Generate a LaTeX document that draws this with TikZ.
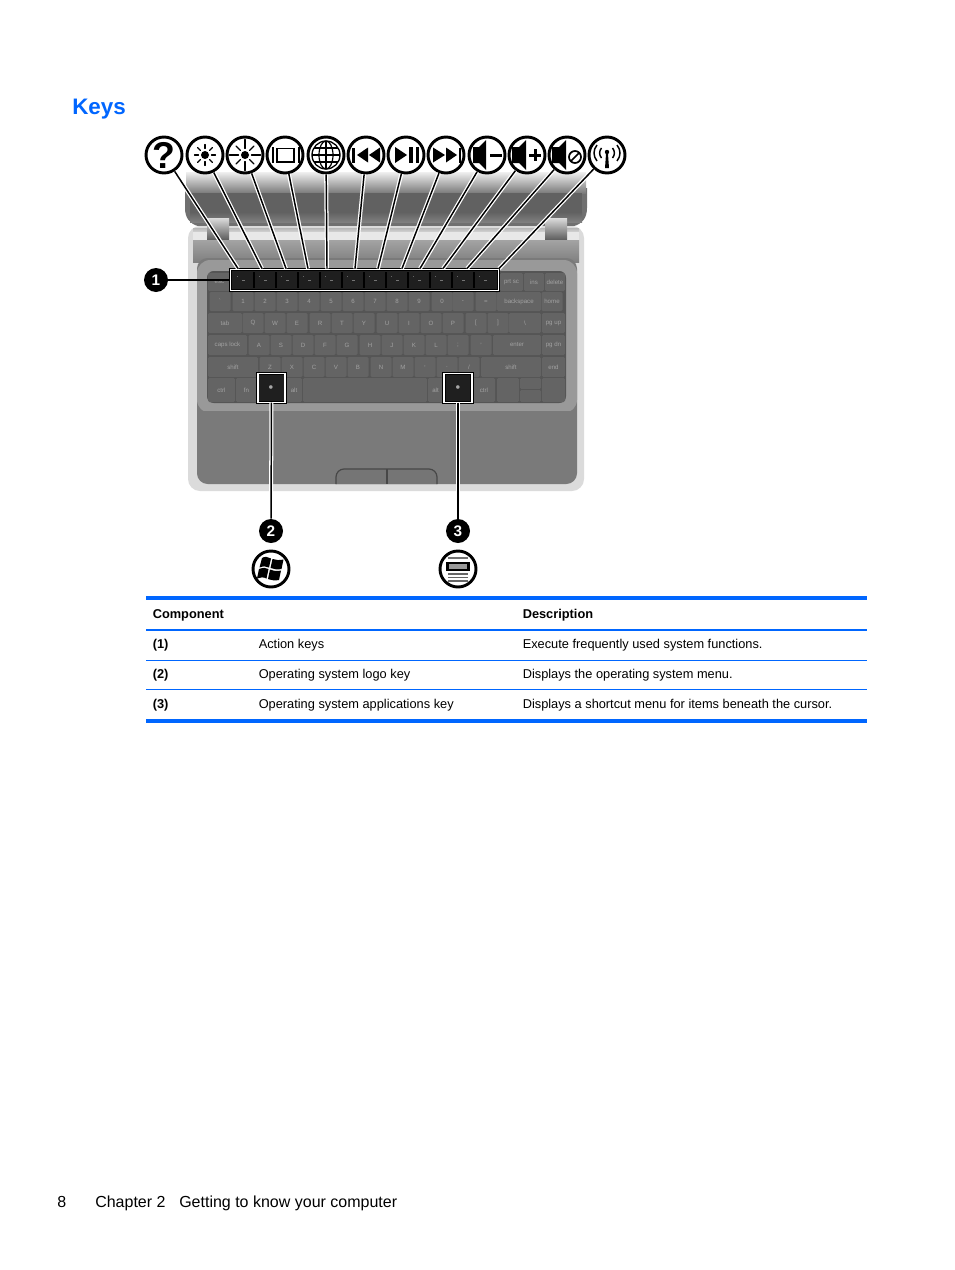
\documentclass[tikz,border=0pt]{standalone}
\usepackage{fontspec}
\setmainfont{Liberation Sans}
\definecolor{hpblue}{HTML}{0066FF}
\definecolor{gapc}{HTML}{555555}
\definecolor{keyc}{HTML}{646464}
\definecolor{labc}{HTML}{A2A2A2}
\newcount\kkn
\newcommand{\kk}[5]{\global\advance\kkn by 1
  \fill[keyc,rounded corners=1pt] (#1,#3) rectangle (#2,#4);
  \node[keylab] (kk\the\kkn) at ({(#1+#2)/2},{(#3+#4)/2}) {#5};}
\newcommand{\tick}[1]{\fill[black!55] (#1-1,279.5) rectangle (#1+2,281);\fill[black!60] (#1-6,275.5) rectangle (#1-5,276.5);}
\tikzset{
  keylab/.style={font=\fontsize{4.6}{5}\selectfont,text=labc,inner sep=0pt},
  iconc/.style={circle,draw=black,fill=white,line width=2.2pt,minimum size=27pt,inner sep=0pt},
  badge/.style={circle,fill=black,text=white,font=\fontsize{11.5}{12}\selectfont\bfseries,minimum size=18pt,inner sep=0pt},
  callbox/.style={rectangle,draw=black,line width=.6pt,double=white,double distance=1.2pt,fill=black!88,inner sep=0pt},
  conn/.style={draw=black,line width=1.1pt,preaction={draw=white,line width=3pt}},
  thead/.style={anchor=base west,font=\fontsize{9.6}{11}\selectfont\bfseries,inner sep=0pt},
  tcell/.style={anchor=base west,font=\fontsize{9.6}{11}\selectfont,inner sep=0pt},
  foot/.style={anchor=base west,font=\fontsize{12}{14}\selectfont,inner sep=0pt},
  ray/.style={line width=.9pt,line cap=round},
}
\begin{document}
\begin{tikzpicture}[x=0.75pt,y=-0.75pt]
\useasboundingbox (0,0) rectangle (954,1270);
\fill[white] (0,0) rectangle (954,1270);
% title
\node[anchor=base west,inner sep=0pt,text=hpblue,font=\fontsize{16.8}{20}\selectfont\bfseries] (title) at (72,114) {Keys};
% lid
\fill[black!56] (185,188) -- (587,188) -- (587,208) .. controls (587,218) and (582,224) .. (574,226) -- (198,226) .. controls (190,224) and (185,218) .. (185,208) -- cycle;
\shade[top color=black!6,bottom color=black!52] (186,172) rectangle (586,193);
\fill[black!62] (190,193) rectangle (582,212);
\shade[top color=black!62,bottom color=black!50] (190,212) rectangle (582,222);
% body
\fill[black!14,rounded corners=9pt] (188,226) rectangle (584,491);
\shade[top color=black!36,bottom color=black!50] (193,240) rectangle (579,262);
\shade[top color=black!28,bottom color=black!14] (193,228) rectangle (579,233);
\fill[black!9] (193,232) rectangle (579,240);
% hinges
\shade[top color=black!14,middle color=black!30,bottom color=black!62] (207,218) rectangle (229,239);
\shade[top color=black!14,middle color=black!30,bottom color=black!62] (545,218) rectangle (567,239);
% deck
\fill[black!52,rounded corners=8pt] (197,258) rectangle (577,484);
\fill[black!40,rounded corners=10pt] (197,260) rectangle (577,413);
\fill[black!52] (198,411) rectangle (576,424);
% keyboard
\fill[gapc,rounded corners=5pt] (207,271) rectangle (566,403);
% row 0
\kk{208}{231}{273}{291}{esc}
\kk{500}{523}{273}{291}{prt sc}
\kk{524}{544}{273}{291}{ins}
\kk{545}{565}{273}{291}{delete}
% row 1
\foreach \c/\l in {220/\textasciigrave,243/1,265/2,287/3,309/4,331/5,353/6,375/7,397/8,419/9,442/0,463/-,486/=,552/home}{\kk{\c-10.5}{\c+10.5}{292}{311}{\l}}
\kk{497}{541}{292}{311}{backspace}
% row 2
\foreach \c/\l in {253/Q,275/W,297/E,320/R,342/T,364/Y,387/U,409/I,431/O,453/P,476/[,498/]}{\kk{\c-10.5}{\c+10.5}{313}{333}{\l}}
\kk{208}{242}{313}{333}{tab}
\kk{509}{541}{313}{333}{\textbackslash}
\kk{542}{565}{313}{333}{pg up}
% row 3
\foreach \c/\l in {259/A,281/S,303/D,325/F,347/G,370/H,392/J,414/K,436/L,458/{;},481/{'}}{\kk{\c-10.5}{\c+10.5}{335}{355}{\l}}
\kk{208}{247}{335}{355}{caps lock}
\kk{493}{541}{335}{355}{enter}
\kk{542}{565}{335}{355}{pg dn}
% row 4
\foreach \c/\l in {270/Z,292/X,314/C,336/V,358/B,381/N,403/M,425/{,},447/.,469/{/}}{\kk{\c-10.5}{\c+10.5}{357}{377}{\l}}
\kk{208}{258}{357}{377}{shift}
\kk{481}{541}{357}{377}{shift}
\kk{542}{565}{357}{377}{end}
% row 5
\kk{208}{235}{378}{402}{ctrl}
\kk{236}{257}{378}{402}{fn}
\kk{286}{302}{378}{402}{alt}
\kk{303}{427}{378}{402}{}
\kk{428}{443}{378}{402}{alt}
\kk{473}{495}{378}{402}{ctrl}
\kk{497}{519}{378}{402}{}
\kk{520}{541}{378}{389}{}
\kk{520}{541}{390}{402}{}
\kk{542}{565}{378}{402}{}
% touchpad buttons
\draw[black!72,fill=black!54,line width=.9pt,rounded corners=6pt] (336,484) -- (336,469) -- (437,469) -- (437,484);
\draw[black!72,line width=.9pt] (387,469) -- (387,484);
% callout boxes
\node[callbox,minimum width=201pt,minimum height=15.5pt] (fbox) at (364.5,280) {};
\foreach \c in {254,276,298,320,342,364,386,408,430,452,474}{\draw[black,line width=.9pt] (\c,272) -- (\c,288);}
\foreach \c in {243,265,287,309,331,353,375,397,419,441,463,485}{\tick{\c}}
\node[callbox,minimum width=20.5pt,minimum height=21.5pt] (winbox) at (271.5,388) {};
\node[callbox,minimum width=21pt,minimum height=21.5pt] (menubox) at (458,388) {};
\node[inner sep=0pt,text=black!35,font=\fontsize{6}{7}\selectfont] (winmark) at (271,388) {$\bullet$};
\node[inner sep=0pt,text=black!35,font=\fontsize{6}{7}\selectfont] (menumark) at (458,388) {$\bullet$};
% icon circles
\foreach \n/\x in {1/164,2/205,3/245,4/285,5/326,6/366,7/406,8/446,9/487,10/527,11/567,12/607}{\node[iconc] (c\n) at (\x,155) {};}
\node[iconc] (cw) at (271,569) {};
\node[iconc] (cm) at (458,569) {};
\node[badge] (b1) at (156,280) {1};
\node[badge] (b2) at (271,531) {2};
\node[badge] (b3) at (458,531) {3};
% connector ends
\foreach \n/\x in {1/238,2/262,3/286,4/308,5/327,6/355,7/378,8/402,9/420,10/443,11/467,12/499}{\coordinate (t\n) at (\x,268.5);
  \draw[conn] (c\n) -- (t\n);}
\draw[black,line width=1.1pt] (b1) -- (fbox);
\draw[conn] (winbox) -- (b2);
\draw[conn] (menubox) -- (b3);
% icon 1 question
\node[inner sep=0pt,font=\fontsize{28}{30}\selectfont\bfseries] (qm) at (164,155) {?};
% icon 2 small sun
\begin{scope}[shift={(205,155)}]
\fill (0,0) circle (4);
\foreach \a in {0,45,...,315}{\draw[ray] (\a:6.5) -- (\a:10.5);}
\end{scope}
% icon 3 big sun
\begin{scope}[shift={(245,155)}]
\fill (0,0) circle (4);
\foreach \a in {0,90,180,270}{\draw[ray] (\a:6.5) -- (\a:15.5);}
\foreach \a in {45,135,225,315}{\draw[ray] (\a:6.5) -- (\a:12.5);}
\end{scope}
% icon 4 screen
\begin{scope}[shift={(285,155)}]
\draw[line width=1.3pt] (-8,-6.5) rectangle (9,7);
\draw[line width=1.5pt] (-12.5,-8) -- (-12.5,8) (13.5,-8) -- (13.5,8);
\end{scope}
% icon 5 globe
\begin{scope}[shift={(326,155)}]
\draw[line width=1pt] (0,0) circle (14);
\draw[line width=.9pt] (0,-14) -- (0,14) (-14,0) -- (14,0);
\draw[line width=.9pt] (0,0) ellipse (7 and 14);
\draw[line width=.9pt] (-12,-7) -- (12,-7) (-12,7) -- (12,7);
\end{scope}
% icon 6 previous
\begin{scope}[shift={(366,155)}]
\fill (-14,-7.5) rectangle (-11.5,7.5);
\fill (-9,0) -- (2,-7.5) -- (2,7.5) -- cycle;
\fill (3,0) -- (14,-7.5) -- (14,7.5) -- cycle;
\end{scope}
% icon 7 play pause
\begin{scope}[shift={(406,155)}]
\fill (-11,-8) -- (1,0) -- (-11,8) -- cycle;
\fill (3,-8) rectangle (6.5,8);
\fill (9.5,-8) rectangle (13,8);
\end{scope}
% icon 8 next
\begin{scope}[shift={(446,155)}]
\fill (-13,-7.5) -- (-1,0) -- (-13,7.5) -- cycle;
\fill (0,-7.5) -- (11,0) -- (0,7.5) -- cycle;
\fill (13,-7.5) rectangle (15,7.5);
\end{scope}
% icon 9 volume down
\begin{scope}[shift={(487,155)}]
\fill (-14,-8) -- (-8,-8) -- (-1,-15) -- (-1,15) -- (-8,8) -- (-14,8) -- cycle;
\fill (3,-1.5) rectangle (14.5,1.5);
\end{scope}
% icon 10 volume up
\begin{scope}[shift={(527,155)}]
\fill (-15,-8) -- (-8,-8) -- (-1,-15) -- (-1,15) -- (-8,8) -- (-15,8) -- cycle;
\fill (2,-1.5) rectangle (14,1.5);
\fill (6.5,-6) rectangle (9.5,6);
\end{scope}
% icon 11 mute
\begin{scope}[shift={(567,155)}]
\fill (-15,-8) -- (-8,-8) -- (-1,-15) -- (-1,15) -- (-8,8) -- (-15,8) -- cycle;
\draw[line width=1.3pt] (8,2) circle (6);
\draw[line width=1.3pt] (3.8,6.2) -- (12.2,-2.2);
\end{scope}
% icon 12 wireless
\begin{scope}[shift={(607,155)}]
\fill (-1,-1) -- (1,-1) -- (2,13) -- (-2,13) -- cycle;
\fill (0,-3) circle (2.2);
\draw[line width=1.1pt] (-5.5,-7) .. controls (-8,-4) and (-8,0) .. (-5.5,3);
\draw[line width=1.1pt] (-10,-10) .. controls (-14,-5) and (-14,1) .. (-10,6);
\draw[line width=1.1pt] (5.5,-7) .. controls (8,-4) and (8,0) .. (5.5,3);
\draw[line width=1.1pt] (10,-10) .. controls (14,-5) and (14,1) .. (10,6);
\end{scope}
% windows icon
\begin{scope}[shift={(271,569)}]
\fill (-9,-11) .. controls (-6,-13) and (-3,-12) .. (0,-10.5) -- (-2,-1.5) .. controls (-5,-3) and (-8,-3) .. (-11.5,-1.5) -- cycle;
\fill (1.5,-10) .. controls (5,-9) and (8,-8.5) .. (12.5,-9.5) -- (10.5,0) .. controls (6,1) and (3,0) .. (-.5,-1) -- cycle;
\fill (-12,0) .. controls (-8,-1.5) and (-5,-1.5) .. (-2.5,0) -- (-4.5,9.5) .. controls (-7,8) and (-11,8) .. (-14,9.5) -- cycle;
\fill (-1,.5) .. controls (3,2) and (6,2.5) .. (10,1.5) -- (8,11) .. controls (4,12) and (0,11) .. (-3,10) -- cycle;
\end{scope}
% menu icon
\begin{scope}[shift={(458,569)}]
\draw[black!55,line width=1pt] (-10,-11) -- (10,-11);
\draw[draw=black,fill=black!40,line width=1.8pt] (-10.5,-6) rectangle (10.5,1);
\draw[black!60,line width=1.1pt] (-10,5) -- (10,5) (-10,8.5) -- (10,8.5) (-10,12) -- (10,12);
\end{scope}
% table
\fill[hpblue] (146,596) rectangle (867,600);
\fill[hpblue] (146,719) rectangle (867,723);
\draw[hpblue,line width=.9pt] (146,630) -- (867,630);
\draw[hpblue,line width=.7pt] (146,660.5) -- (867,660.5);
\draw[hpblue,line width=.7pt] (146,689.5) -- (867,689.5);
\node[thead] (h1) at (152.5,618) {Component};
\node[thead] (h2) at (522.5,618) {Description};
\node[thead] (n1) at (152.5,648) {(1)};
\node[tcell] (k1) at (258.5,648) {Action keys};
\node[tcell] (d1) at (522.5,648) {Execute frequently used system functions.};
\node[thead] (n2) at (152.5,678) {(2)};
\node[tcell] (k2) at (258.5,678) {Operating system logo key};
\node[tcell] (d2) at (522.5,678) {Displays the operating system menu.};
\node[thead] (n3) at (152.5,708) {(3)};
\node[tcell] (k3) at (258.5,708) {Operating system applications key};
\node[tcell] (d3) at (522.5,708) {Displays a shortcut menu for items beneath the cursor.};
% footer
\node[foot] (f1) at (57,1207) {8};
\node[foot] (f2) at (95,1207) {Chapter 2};
\node[foot] (f3) at (179,1207) {Getting to know your computer};
\end{tikzpicture}
\end{document}
